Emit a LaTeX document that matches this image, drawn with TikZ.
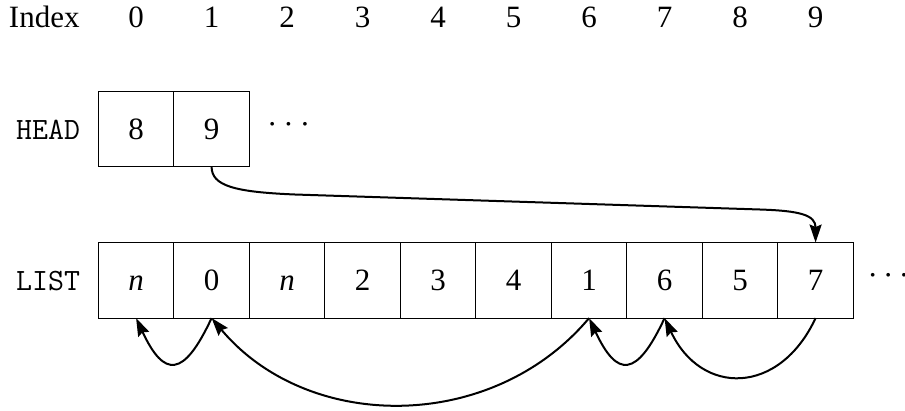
\documentclass[tikz,border=0pt]{standalone}
\usepackage{fontspec}
\setmainfont{Liberation Serif}
\usetikzlibrary{arrows.meta}
\begin{document}
\begin{tikzpicture}[x=1pt,y=1pt,
  every node/.style={font=\fontsize{31}{37}\selectfont, inner sep=0pt, outer sep=0pt},
  cell/.style={draw, line width=1.1pt, minimum width=75.5pt, minimum height=75.5pt, text height=21pt, text depth=0pt},
  lab/.style={font=\fontsize{31}{37}\selectfont\ttfamily},
  arr/.style={-{Stealth[length=18pt,width=12pt,inset=2.5pt]}, line width=2pt}]
\useasboundingbox (0,0) rectangle (905,-410);
% index row
\node[anchor=base west] (idx) at (9,-27.7) {Index};
\foreach \i in {0,...,9} {
  \node[anchor=base] (i\i) at ({136.1+75.5*\i},-27.7) {\i};
}
% HEAD row
\node[lab, anchor=base east] (head) at (80,-139.3) {HEAD};
\node[cell] (h0) at (136.1,-129) {8};
\node[cell] (h1) at (211.6,-129) {9};
\node[anchor=base west] (hdots) at (267.1,-134.5) {·\kern0.195em·\kern0.195em·};
% LIST row
\node[lab, anchor=base east] (list) at (80,-290) {LIST};
\foreach \v [count=\k from 0] in {\textit{n},0,\textit{n},2,3,4,1,6,5,7} {
  \node[cell] (l\k) at ({136.1+75.5*\k},-280.3) {\v};
}
\node[anchor=base west] (ldots) at (867.6,-285.2) {·\kern0.17em·\kern0.17em·};
% arrows
\draw[arr] (h1.south) .. controls (211.6,-186) and (235,-192) .. (295,-194.5)
  -- (760,-209.5) .. controls (800,-210.8) and (815.6,-215) .. (l9.north);
\draw[arr] (l1.south) to[out=-115,in=-65,looseness=2.25] (l0.south);
\draw[arr] (l7.south) to[out=-115,in=-65,looseness=2.25] (l6.south);
\draw[arr] (l9.south) to[out=-115,in=-65,looseness=1.46] (l7.south);
\draw[arr] (l6.south) to[out=-130,in=-50,looseness=1.02] (l1.south);
\end{tikzpicture}
\end{document}
